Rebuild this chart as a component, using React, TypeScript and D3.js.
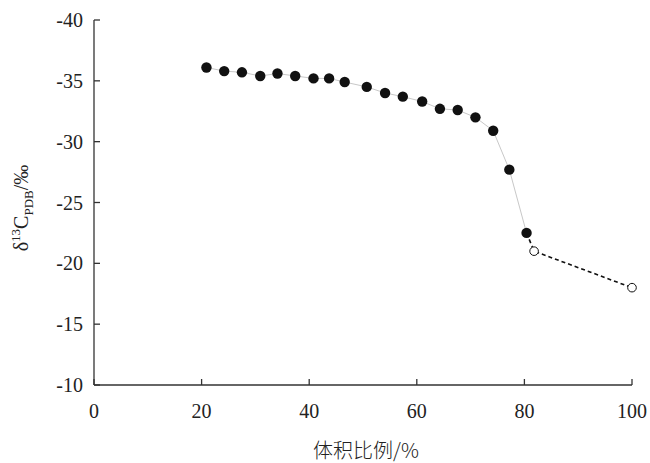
import React from "react";
import * as d3 from "d3";

const solidX = [20.9, 24.2, 27.5, 30.9, 34.1, 37.4, 40.8, 43.7, 46.6, 50.7, 54.1, 57.4, 61.0, 64.3, 67.6, 70.9, 74.2, 77.2, 80.4];
const solidY = [-36.1, -35.8, -35.7, -35.4, -35.6, -35.4, -35.2, -35.2, -34.9, -34.5, -34.0, -33.7, -33.3, -32.7, -32.6, -32.0, -30.9, -27.7, -22.5];
const openX = [81.8, 100];
const openY = [-21.0, -18.0];
const xTicks = [0, 20, 40, 60, 80, 100];
const yTicks = [-40, -35, -30, -25, -20, -15, -10];

export default function App() {
  const W = 650, H = 463;
  const left = 94, right = 632, top = 20, bottom = 385;
  const x = d3.scaleLinear().domain([0, 100]).range([left, right]);
  const y = d3.scaleLinear().domain([-40, -10]).range([top, bottom]);
  const solid = solidX.map((v, i) => [v, solidY[i]] as [number, number]);
  const lastSolid = solid[solid.length - 1];
  const open = openX.map((v, i) => [v, openY[i]] as [number, number]);
  const line = d3.line<[number, number]>().x(d => x(d[0])).y(d => y(d[1]));
  const font = "Liberation Serif, Times New Roman, Times, serif";
  return (
    <svg width={W} height={H} style={{ position: "absolute", left: 0, top: 0 }}>
      <rect width={W} height={H} fill="#fff" />
      <path d={line(solid) || ""} fill="none" stroke="#c8c8c8" strokeWidth={1} />
      <path d={line([lastSolid, ...open]) || ""} fill="none" stroke="#111" strokeWidth={1.6} strokeDasharray="4,3" />
      {solid.map((d, i) => (
        <circle key={i} cx={x(d[0])} cy={y(d[1])} r={5.2} fill="#111" />
      ))}
      {open.map((d, i) => (
        <circle key={"o" + i} cx={x(d[0])} cy={y(d[1])} r={4.3} fill="#fff" stroke="#111" strokeWidth={1} />
      ))}
      <line x1={left} x2={left} y1={top} y2={bottom} stroke="#333" strokeWidth={1.3} />
      <line x1={left} x2={right} y1={bottom} y2={bottom} stroke="#333" strokeWidth={1.3} />
      {yTicks.map(t => (
        <g key={t}>
          <line x1={left} x2={left + 6} y1={y(t)} y2={y(t)} stroke="#333" strokeWidth={1.3} />
          <text x={left - 11} y={y(t)} dy="0.35em" textAnchor="end" style={{ fontFamily: font }} fontSize={20} fill="#222">{t}</text>
        </g>
      ))}
      {xTicks.map(t => (
        <g key={t}>
          <line x1={x(t)} x2={x(t)} y1={bottom} y2={bottom - 6} stroke="#333" strokeWidth={1.3} />
          <text x={x(t)} y={418} textAnchor="middle" style={{ fontFamily: font }} fontSize={20} fill="#222">{t}</text>
        </g>
      ))}
      <text x={366} y={458} textAnchor="middle" style={{ fontFamily: "Noto Sans CJK SC, sans-serif", fontWeight: 300 }} fontSize={20} fill="#222">体积比例/%</text>
      <text transform="translate(28,208) rotate(-90)" textAnchor="middle" style={{ fontFamily: font }} fontSize={20} fill="#222">
        δ<tspan fontSize={13} dy={-8}>13</tspan><tspan dy={8}>C</tspan><tspan fontSize={13} dy={5}>PDB</tspan><tspan dy={-5}>/‰</tspan>
      </text>
    </svg>
  );
}
